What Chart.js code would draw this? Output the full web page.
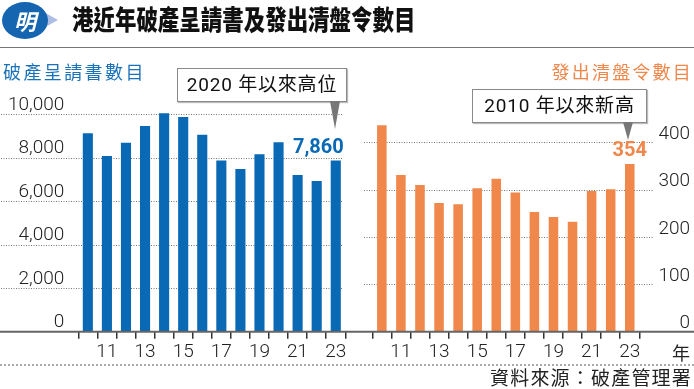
<!DOCTYPE html>
<html>
<head>
<meta charset="utf-8">
<script src="https://cdn.jsdelivr.net/npm/chart.js@4"></script>
<style>
  html, body { margin: 0; padding: 0; background: #fff; }
  #wrap { position: relative; width: 694px; height: 389px; overflow: hidden; font-family: "Roboto", "Noto Sans CJK TC", sans-serif; color: #1a1a1a; }
  canvas { position: absolute; top: 0; }
  #left { left: 0; }
  #right { left: 350px; }
  .abs { position: absolute; white-space: nowrap; }
  .logo-tail { left: 40px; top: 10px; width: 0; height: 0; border-top: 10px solid transparent; border-bottom: 10px solid transparent; border-left: 18px solid #aebde3; }
  .logo { left: 2px; top: 2px; width: 46px; height: 37px; border-radius: 50%; background: #1565b0; color: #fff; font: bold italic 22px "Noto Sans CJK TC"; line-height: 37px; text-align: center; }
  .title { left: 72px; top: 2px; font: 900 27px "Noto Sans CJK TC"; line-height: 34px; transform: scaleX(0.795); transform-origin: left top; color: #111; }
  .rule { left: 0; top: 47px; width: 694px; height: 1px; background: #777; }
  .sub { top: 60px; font: 18px "Noto Sans CJK TC"; letter-spacing: 2.4px; line-height: 22px; }
  .box { background: #fff; border: 1px solid #8a8a8a; box-shadow: 1px 1px 1px #bbb; font: 19px "Roboto", "Noto Sans CJK TC"; letter-spacing: 0.8px; line-height: 31px; text-align: center; color: #111; }
  .ptr { width: 0; height: 0; border-left: 5.5px solid transparent; border-right: 5.5px solid transparent; border-top: 28px solid #777; }
  .dots { left: 0; top: 364px; width: 694px; height: 0; border-top: 2px dotted #aaa; }
  .src { right: 2px; top: 366px; font: 19px "Noto Sans CJK TC"; line-height: 22px; letter-spacing: 1.2px; color: #222; }
  .nian { left: 672px; top: 341px; font: 18px "Noto Sans CJK TC"; line-height: 22px; color: #222; }
</style>
</head>
<body>
<div id="wrap">
  <canvas id="left" width="350" height="389"></canvas>
  <canvas id="right" width="344" height="389"></canvas>

  <div class="abs logo-tail"></div>
  <div class="abs logo">明</div>
  <div class="abs title">港近年破產呈請書及發出清盤令數目</div>
  <div class="abs rule"></div>

  <div class="abs sub" style="left:3px; color:#1a72ba;">破產呈請書數目</div>
  <div class="abs sub" style="right:1px; color:#f0874b; letter-spacing:2.2px;">發出清盤令數目</div>

  <div class="abs box" style="left:177px; top:68px; width:168px; height:32px;">2020 年以來高位</div>
  <div class="abs ptr" style="left:330px; top:101px;"></div>
  <div class="abs box" style="left:472px; top:89px; width:173px; height:32px;">2010 年以來新高</div>
  <div class="abs ptr" style="left:623px; top:122px; border-top-width:18px;"></div>

  <div class="abs nian">年</div>
  <div class="abs dots"></div>
  <div class="abs src">資料來源：破產管理署</div>
</div>

<script>
// data
const years = [2010, 2011, 2012, 2013, 2014, 2015, 2016, 2017, 2018, 2019, 2020, 2021, 2022, 2023];
const yearLabels = ['', '11', '', '13', '', '15', '', '17', '', '19', '', '21', '', '23'];
const petitions = [9110, 8070, 8680, 9450, 10030, 9860, 9050, 7860, 7470, 8150, 8700, 7200, 6920, 7860];
const windingUp = [436, 331, 310, 272, 269, 303, 323, 294, 253, 242, 232, 297, 301, 354];
const petitionTicks = [0, 2000, 4000, 6000, 8000, 10000];
const windingUpTicks = [0, 100, 200, 300, 400];

const blue = '#0a69b4';
const orange = '#f0874b';
const tickFont = { family: 'Roboto', size: 19, weight: 300 };

// dotted grid across the whole panel, base line, value on last bar
const panelLines = {
  id: 'panelLines',
  beforeDatasetsDraw(chart, args, opts) {
    const ctx = chart.ctx;
    const y = chart.scales.y;
    ctx.save();
    ctx.strokeStyle = '#777';
    ctx.lineWidth = 1;
    ctx.setLineDash([1, 1.5]);
    y.ticks.forEach(t => {
      if (t.value === 0) return;
      const py = Math.round(y.getPixelForValue(t.value)) + 0.5;
      ctx.beginPath();
      ctx.moveTo(opts.gridFrom, py);
      ctx.lineTo(opts.gridTo, py);
      ctx.stroke();
    });
    ctx.restore();
  },
  afterDatasetsDraw(chart, args, opts) {
    const ctx = chart.ctx;
    const y = chart.scales.y;
    const py = y.getPixelForValue(0);
    ctx.save();
    ctx.strokeStyle = '#666';
    ctx.lineWidth = 2;
    ctx.beginPath();
    ctx.moveTo(0, py);
    ctx.lineTo(chart.width, py);
    ctx.stroke();

    const meta = chart.getDatasetMeta(0);
    const bar = meta.data[meta.data.length - 1];
    const values = chart.data.datasets[0].data;
    ctx.fillStyle = opts.color;
    ctx.font = 'bold 20px Roboto';
    ctx.textAlign = opts.align;
    ctx.textBaseline = 'alphabetic';
    ctx.fillText(values[values.length - 1].toLocaleString('en-US'), bar.x + opts.dx, bar.y - 8);
    ctx.restore();
  }
};

function xScale() {
  return {
    grid: { offset: true, drawOnChartArea: false, drawTicks: true, tickLength: 7, color: '#333', lineWidth: 1.5 },
    border: { display: false },
    ticks: {
      autoSkip: false, maxRotation: 0, padding: 2, color: '#222', font: tickFont,
      callback: (v, i) => yearLabels[i]
    },
    afterFit: s => { s.height = 26; }
  };
}

new Chart(document.getElementById('left'), {
  type: 'bar',
  data: {
    labels: years,
    datasets: [{ data: petitions, backgroundColor: blue, categoryPercentage: 1, barPercentage: 0.53 }]
  },
  options: {
    responsive: false,
    animation: false,
    layout: { padding: { top: 103.1, right: 4.7, bottom: 31.3, left: 0 } },
    plugins: {
      legend: { display: false },
      tooltip: { enabled: false },
      panelLines: { gridFrom: 1, gridTo: 342, color: blue, align: 'right', dx: 8 }
    },
    scales: {
      x: xScale(),
      y: {
        min: 0, max: 10500,
        grid: { display: false, drawTicks: false },
        border: { display: false },
        ticks: { padding: 14, labelOffset: -9, color: '#222', font: tickFont, callback: v => v.toLocaleString('en-US') },
        afterBuildTicks: s => { s.ticks = petitionTicks.map(v => ({ value: v })); },
        afterFit: s => { s.width = 78.3; }
      }
    }
  },
  plugins: [panelLines]
});

new Chart(document.getElementById('right'), {
  type: 'bar',
  data: {
    labels: years,
    datasets: [{ data: windingUp, backgroundColor: orange, categoryPercentage: 1, barPercentage: 0.5 }]
  },
  options: {
    responsive: false,
    animation: false,
    layout: { padding: { top: 113.9, right: 4, bottom: 31.3, left: 22.3 } },
    plugins: {
      legend: { display: false },
      tooltip: { enabled: false },
      panelLines: { gridFrom: 14, gridTo: 303, color: orange, align: 'center', dx: 0 }
    },
    scales: {
      x: xScale(),
      y: {
        position: 'right',
        min: 0, max: 460,
        grid: { display: false, drawTicks: false },
        border: { display: false },
        ticks: { crossAlign: 'far', labelOffset: -8, color: '#222', font: tickFont },
        afterBuildTicks: s => { s.ticks = windingUpTicks.map(v => ({ value: v })); },
        afterFit: s => { s.width = 50.7; }
      }
    }
  },
  plugins: [panelLines]
});
</script>
</body>
</html>
